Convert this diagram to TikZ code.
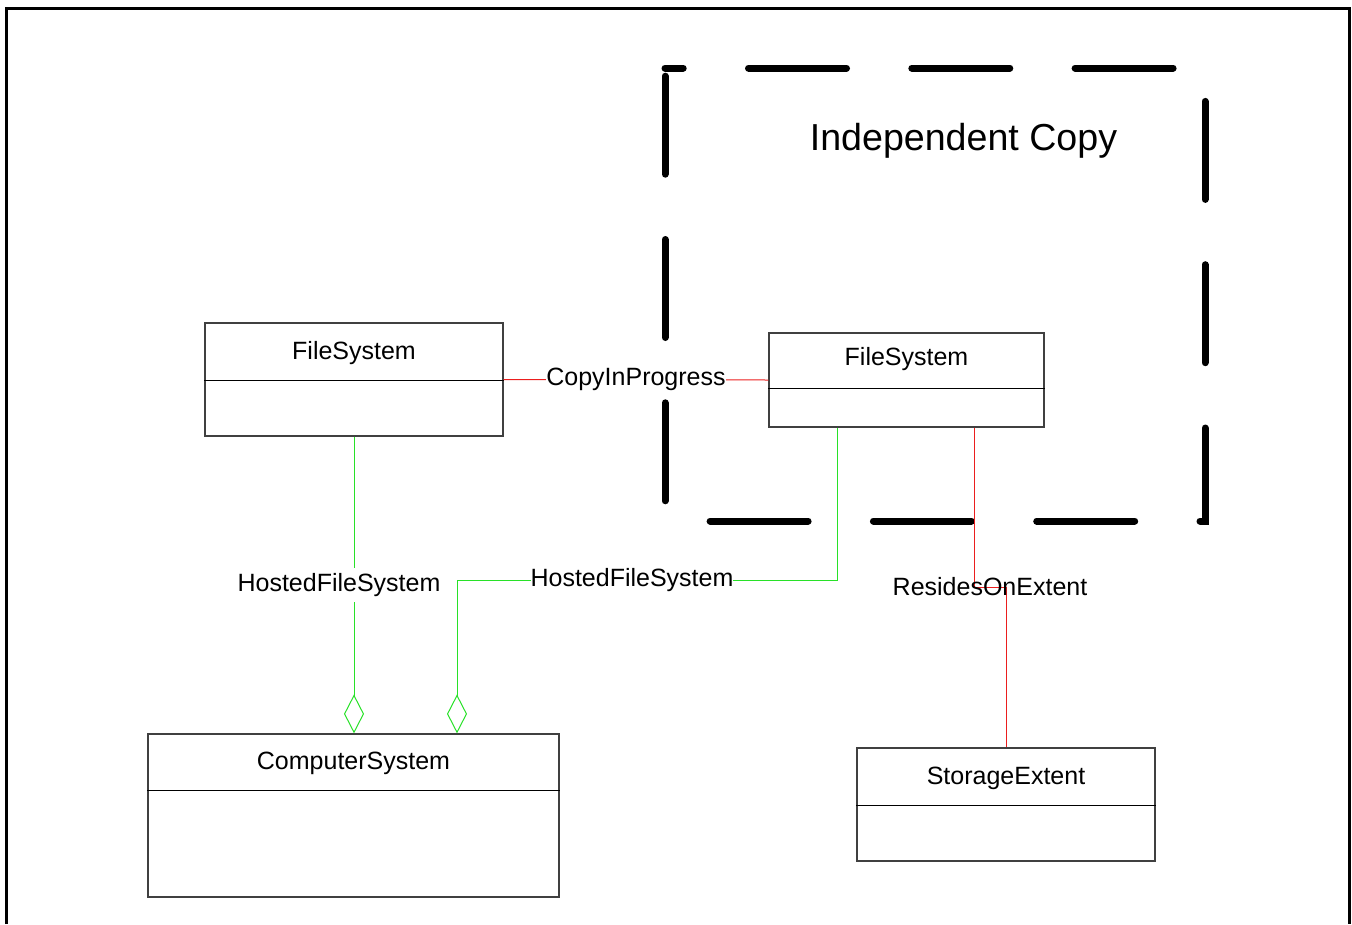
\documentclass[tikz,border=0pt]{standalone}
\usepackage{fontspec}
\setmainfont{Liberation Sans}
\usetikzlibrary{arrows.meta}

\definecolor{linkgreen}{RGB}{40,225,40}
\definecolor{linkred}{RGB}{235,30,30}

\tikzset{
  classbox/.style={draw=black!75, line width=1.2pt, inner sep=0pt},
  classname/.style={font=\fontsize{25}{30}\selectfont, anchor=base, inner sep=0pt},
  assoclabel/.style={font=\fontsize{25}{30}\selectfont, text=black, fill=white, inner xsep=0pt, inner ysep=5pt},
  redlink/.style={linkred, line width=1pt},
  greenlink/.style={linkgreen, line width=1pt},
  aggr/.style={-{Diamond[open, length=39pt, width=20pt]}}
}

\begin{document}
\begin{tikzpicture}[x=1pt, y=-1pt]
\useasboundingbox (0,0) rectangle (1352,924);
\draw[line width=3pt] (6,924) -- (6,8) -- (1349.5,8) -- (1349.5,924);

\draw[line width=7pt, line cap=round, dash pattern=on 98pt off 65.3pt, dash phase=79.8pt] (665,68) -- (1205,68) -- (1205,521) -- (665,521) -- cycle;
\node[font=\fontsize{37.6}{45}\selectfont, anchor=base] (title) at (963.5,150.5) {Independent Copy};

\node[classbox, minimum width=298pt, minimum height=113pt] (fsA) at (354,379.5) {};
\node[classbox, minimum width=275pt, minimum height=94pt] (fsB) at (906.5,380) {};
\node[classbox, minimum width=411pt, minimum height=163pt] (cs) at (353.5,815.5) {};
\node[classbox, minimum width=298pt, minimum height=113pt] (se) at (1006,804.5) {};
\foreach \c/\d in {fsA/58, fsB/56, cs/57, se/58}
  \draw[black, line width=1.2pt] ([yshift=-\d pt]\c.north west) -- ([yshift=-\d pt]\c.north east);

\node[classname] (fsAname) at ([yshift=-37pt]fsA.north) {FileSystem};
\node[classname] (fsBname) at ([yshift=-33pt]fsB.north) {FileSystem};
\node[classname] (csname) at ([yshift=-36pt]cs.north) {ComputerSystem};
\node[classname] (sename) at ([yshift=-37pt]se.north) {StorageExtent};

\draw[redlink] (fsA.east) -- node[assoclabel] (copyLbl) {CopyInProgress} (fsB.west);

\draw[greenlink, aggr] (fsA.south) -- node[assoclabel, xshift=-15pt] (hostALbl) {HostedFileSystem} (fsA.south |- cs.north);

\coordinate (hostBend) at (457,580);
\draw[greenlink, aggr] ([xshift=69pt]fsB.south west) |- node[assoclabel, pos=0.77] (hostBLbl) {HostedFileSystem} (hostBend) -- (hostBend |- cs.north);

\coordinate (resBend) at (1006,587);
\draw[redlink] ([xshift=206pt]fsB.south west) |- (resBend) -- (se.north);
\node[classname] (resLbl) at (990,595) {ResidesOnExtent};
\end{tikzpicture}
\end{document}
